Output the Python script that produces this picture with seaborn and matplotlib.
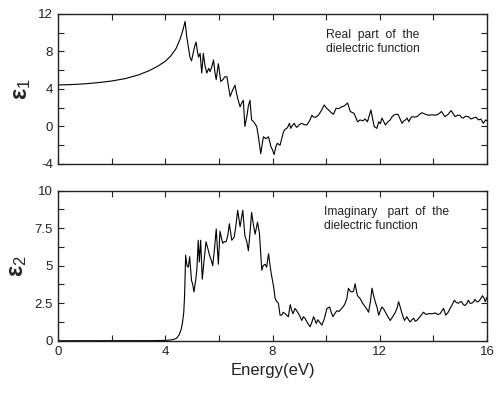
import matplotlib
matplotlib.use("Agg")
import matplotlib.pyplot as plt
import seaborn as sns
import pandas as pd
from matplotlib.ticker import MultipleLocator

# ---- data: real part (epsilon_1) ----
e1_energy = [0.0, 0.5, 1.0, 1.5, 2.0, 2.5, 3.0, 3.4, 3.7, 4.0, 4.2, 4.4, 4.55, 4.65, 4.74,
             4.80, 4.86, 4.92, 4.98, 5.04, 5.10, 5.15, 5.20, 5.24, 5.30, 5.36, 5.42, 5.48, 5.55,
             5.62, 5.67, 5.74, 5.80, 5.85, 5.90, 5.98, 6.03, 6.07, 6.15, 6.22, 6.30, 6.36, 6.42,
             6.50, 6.60, 6.66, 6.72, 6.79, 6.85, 6.91, 6.97, 7.05, 7.10, 7.16, 7.22, 7.30, 7.41,
             7.48, 7.56, 7.62, 7.66, 7.75, 7.85, 7.91, 7.94, 8.00, 8.06, 8.12, 8.18, 8.28, 8.35,
             8.41, 8.47, 8.53, 8.58, 8.63, 8.68, 8.74, 8.81, 8.86, 8.91, 9.00, 9.09, 9.18, 9.28,
             9.38, 9.47, 9.53, 9.62, 9.71, 9.80, 9.93, 10.00, 10.09, 10.18, 10.27, 10.37, 10.47,
             10.58, 10.68, 10.80, 10.90, 11.04, 11.10, 11.17, 11.27, 11.37, 11.45, 11.54, 11.67,
             11.79, 11.89, 11.96, 12.02, 12.08, 12.15, 12.21, 12.30, 12.39, 12.45, 12.52, 12.60,
             12.68, 12.76, 12.83, 12.90, 12.96, 13.02, 13.08, 13.15, 13.20, 13.30, 13.39, 13.48,
             13.57, 13.70, 13.82, 13.95, 14.07, 14.18, 14.30, 14.37, 14.43, 14.55, 14.66, 14.73,
             14.81, 14.90, 14.99, 15.05, 15.12, 15.20, 15.30, 15.40, 15.49, 15.58, 15.68, 15.77,
             15.86, 15.95, 16.0]
e1_values = [4.43, 4.47, 4.55, 4.68, 4.85, 5.1, 5.5, 5.95, 6.4, 6.95, 7.5, 8.3, 9.3, 10.2, 11.2,
             9.6, 8.5, 7.4, 7.0, 7.8, 8.6, 9.0, 8.0, 7.4, 7.8, 5.7, 7.8, 6.5, 5.7,
             6.2, 5.85, 6.4, 7.1, 5.8, 5.0, 6.7, 5.6, 4.8, 5.0, 5.3, 5.3, 4.2, 3.2,
             3.8, 4.4, 3.5, 2.8, 2.1, 2.5, 2.8, 0.0, 1.2, 2.2, 2.8, 0.7, 0.5, 0.0,
             -1.2, -2.9, -1.8, -1.1, -1.3, -1.1, -1.8, -2.15, -2.5, -3.0, -2.2, -1.8, -2.0, -1.2,
             -0.55, -0.3, -0.2, 0.0, 0.34, -0.2, 0.1, 0.34, 0.05, -0.1, 0.2, 0.34, 0.2, 0.16,
             0.6, 1.2, 1.0, 1.0, 1.2, 1.6, 2.3, 2.0, 1.76, 1.5, 1.3, 1.94, 1.9,
             2.1, 2.2, 2.5, 1.6, 1.4, 1.0, 0.5, 0.7, 0.6, 0.8, 0.5, 1.76,
             0.0, -0.2, 0.5, 0.3, 0.9, 0.5, 0.16, 0.5, 0.7, 1.0, 1.2, 1.3,
             1.3, 0.8, 0.34, 0.6, 0.7, 0.9, 0.5, 0.9, 1.05, 1.0, 1.05, 1.3,
             1.47, 1.3, 1.2, 1.25, 1.2, 1.3, 1.6, 1.3, 1.05, 1.3, 1.7, 1.4,
             1.05, 1.2, 1.2, 0.95, 0.9, 1.1, 1.05, 0.8, 0.9, 1.0, 0.7, 0.8,
             0.34, 0.7, 0.6]

# ---- data: imaginary part (epsilon_2) ----
e2_energy = [0.0, 1.0, 2.0, 3.0, 3.5, 4.0, 4.2, 4.3, 4.42, 4.52, 4.60, 4.65, 4.69, 4.72,
             4.76, 4.81, 4.86, 4.91, 4.98, 5.02, 5.07, 5.14, 5.18, 5.23, 5.27, 5.32, 5.38, 5.45,
             5.52, 5.58, 5.65, 5.71, 5.77, 5.84, 5.90, 5.98, 6.04, 6.09, 6.14, 6.20, 6.27, 6.33,
             6.39, 6.48, 6.57, 6.63, 6.70, 6.79, 6.89, 6.97, 7.04, 7.10, 7.16, 7.22, 7.28, 7.35,
             7.44, 7.51, 7.60, 7.65, 7.72, 7.78, 7.85, 7.94, 8.04, 8.10, 8.16, 8.22, 8.28, 8.34,
             8.40, 8.47, 8.53, 8.59, 8.66, 8.72, 8.76, 8.84, 8.90, 8.97, 9.03, 9.09, 9.15, 9.21,
             9.30, 9.40, 9.46, 9.53, 9.58, 9.63, 9.69, 9.75, 9.84, 9.92, 10.03, 10.13, 10.19,
             10.25, 10.32, 10.40, 10.48, 10.58, 10.65, 10.71, 10.77, 10.83, 10.90, 10.96, 11.02,
             11.08, 11.13, 11.17, 11.22, 11.27, 11.36, 11.46, 11.52, 11.58, 11.65, 11.71, 11.77,
             11.83, 11.90, 11.96, 12.02, 12.08, 12.15, 12.21, 12.30, 12.39, 12.48, 12.58, 12.65,
             12.70, 12.77, 12.83, 12.92, 13.01, 13.07, 13.13, 13.20, 13.26, 13.32, 13.38, 13.50,
             13.63, 13.72, 13.82, 13.95, 14.07, 14.16, 14.25, 14.32, 14.38, 14.46, 14.55, 14.62,
             14.70, 14.78, 14.85, 14.93, 15.00, 15.05, 15.12, 15.18, 15.25, 15.30, 15.37, 15.43,
             15.50, 15.55, 15.62, 15.68, 15.76, 15.83, 15.90, 15.93, 16.00]
e2_values = [0.0, 0.0, 0.0, 0.0, 0.005, 0.02, 0.05, 0.08, 0.16, 0.4, 0.8, 1.3, 1.9, 3.0,
             5.7, 5.0, 4.9, 5.6, 4.0, 3.8, 3.25, 4.1, 4.8, 6.7, 5.25, 6.7, 4.1, 5.4,
             6.6, 6.2, 5.7, 5.4, 5.0, 6.2, 7.45, 5.1, 7.3, 6.9, 6.5, 6.6, 6.6, 7.0,
             7.8, 6.7, 6.9, 7.6, 8.7, 7.6, 8.7, 7.0, 6.6, 6.0, 7.2, 8.55, 7.8, 7.1,
             7.9, 7.2, 4.7, 5.0, 5.1, 4.9, 5.8, 4.6, 3.6, 2.8, 2.6, 2.5, 1.7, 1.7,
             1.9, 1.8, 1.7, 1.6, 2.4, 2.0, 1.8, 2.15, 2.0, 1.8, 1.6, 1.35, 1.6, 1.5,
             1.2, 0.93, 1.2, 1.6, 1.4, 1.15, 1.4, 1.25, 1.04, 1.4, 2.15, 2.25, 1.9,
             1.6, 1.8, 2.0, 1.95, 2.15, 2.3, 2.5, 2.8, 3.5, 3.3, 3.25, 3.3,
             3.8, 3.3, 3.0, 2.9, 2.8, 2.5, 2.25, 2.1, 1.9, 2.6, 3.5, 3.0,
             2.6, 2.2, 1.7, 2.0, 2.25, 2.1, 1.9, 1.6, 1.35, 1.6, 1.9, 2.2,
             2.6, 2.2, 1.8, 1.35, 1.6, 1.4, 1.25, 1.4, 1.5, 1.3, 1.35, 1.6,
             1.9, 1.75, 1.8, 1.8, 1.85, 1.75, 1.8, 2.0, 2.15, 1.7, 1.9, 2.15,
             2.4, 2.7, 2.55, 2.5, 2.6, 2.6, 2.4, 2.35, 2.5, 2.7, 2.5, 2.5,
             2.6, 2.75, 2.6, 2.6, 2.8, 3.0, 2.8, 2.6, 2.9]

x_ticks = [0, 4, 8, 12, 16]
y1_ticks = [-4, 0, 4, 8, 12]
y2_ticks = [0, 2.5, 5, 7.5, 10]
y2_labels = ["0", "2.5", "5", "7.5", "10"]

sns.set_style("ticks")
plt.rcParams["font.family"] = ["Liberation Sans", "DejaVu Sans"]
plt.rcParams["axes.unicode_minus"] = False
plt.rcParams["mathtext.fontset"] = "custom"
plt.rcParams["mathtext.rm"] = "Liberation Sans"
plt.rcParams["mathtext.bf"] = "Liberation Sans:bold"
plt.rcParams["mathtext.it"] = "Liberation Sans:italic"

fig = plt.figure(figsize=(5.03, 3.96), dpi=100)
ax1 = fig.add_axes([0.1153, 0.5859, 0.853, 0.3788])
ax2 = fig.add_axes([0.1153, 0.1396, 0.853, 0.3788])

df1 = pd.DataFrame({"E": e1_energy, "v": e1_values})
df2 = pd.DataFrame({"E": e2_energy, "v": e2_values})
sns.lineplot(data=df1, x="E", y="v", ax=ax1, color="black", lw=0.8, sort=False, estimator=None)
sns.lineplot(data=df2, x="E", y="v", ax=ax2, color="black", lw=0.8, sort=False, estimator=None)

for ax in (ax1, ax2):
    ax.set_xlim(0, 16)
    ax.xaxis.set_major_locator(MultipleLocator(4))
    ax.xaxis.set_minor_locator(MultipleLocator(2))
    ax.tick_params(which="both", direction="in", top=True, right=True, length=4,
                   width=0.8, labelsize=9.5, colors="#222222")
    for s in ax.spines.values():
        s.set_linewidth(1.0)
        s.set_color("#222222")
    ax.set_xlabel("")

ax1.set_ylim(-4, 12)
ax1.set_yticks(y1_ticks)
ax1.yaxis.set_minor_locator(MultipleLocator(2))
ax1.set_xticks(x_ticks)
ax1.set_xticklabels([])
ax1.set_ylabel(r"$\mathbf{ε}_{1}$", fontsize=17, labelpad=4)

ax2.set_ylim(0, 10)
ax2.set_yticks(y2_ticks)
ax2.set_yticklabels(y2_labels)
ax2.yaxis.set_minor_locator(MultipleLocator(1.25))
ax2.set_xticks(x_ticks)
ax2.set_xticklabels([str(t) for t in x_ticks])
ax2.set_ylabel(r"$\mathbf{ε}_{2}$", fontsize=17, labelpad=4)
ax2.set_xlabel("Energy(eV)", fontsize=12, color="#222222", labelpad=4)

ax1.text(0.625, 0.9, "Real  part  of  the\ndielectric function", transform=ax1.transAxes,
         fontsize=8.7, va="top", ha="left", color="#222222", linespacing=1.25)
ax2.text(0.62, 0.9, "Imaginary   part  of  the\ndielectric function", transform=ax2.transAxes,
         fontsize=8.7, va="top", ha="left", color="#222222", linespacing=1.25)

fig.savefig("out.png", dpi=100)
